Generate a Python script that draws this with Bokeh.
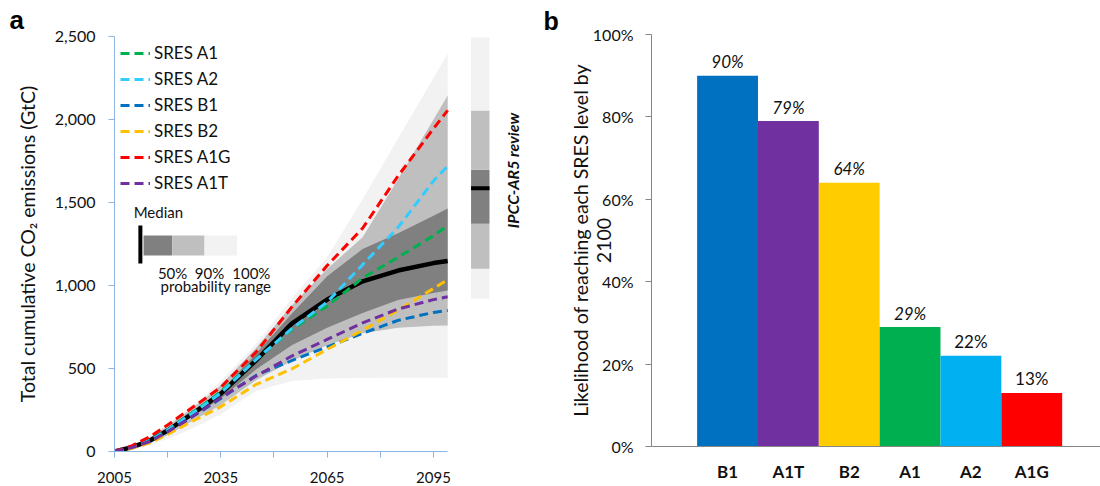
import math
from bokeh.plotting import figure
from bokeh.layouts import row, column
from bokeh.models import (ColumnDataSource, Legend, LegendItem, Label, FixedTicker,
                          PrintfTickFormatter, NumeralTickFormatter, Range1d)
from bokeh.core.properties import value
from bokeh.embed import file_html
from bokeh.resources import INLINE

FONT = "Lato"
TXT = "#111111"

# ---------------- Panel a data ----------------
years = [2005, 2010, 2015, 2020, 2025, 2030, 2035, 2045, 2055, 2065, 2075, 2085, 2095, 2099]

median = [0, 26, 66, 126, 200, 272, 349, 550, 770, 915, 1025, 1090, 1135, 1148]
up50 = [0, 28, 70, 132, 210, 285, 365, 590, 830, 1055, 1220, 1315, 1420, 1464]
lo50 = [0, 24, 60, 118, 185, 250, 320, 495, 640, 745, 835, 912, 955, 970]
up90 = [0, 32, 85, 155, 232, 310, 400, 625, 880, 1100, 1290, 1640, 2000, 2145]
lo90 = [0, 20, 50, 100, 160, 220, 280, 430, 545, 640, 712, 745, 757, 759]
up100 = [0, 35, 95, 165, 245, 330, 425, 650, 920, 1170, 1520, 1885, 2250, 2398]
lo100 = [0, 15, 40, 75, 120, 170, 225, 365, 425, 440, 443, 445, 445, 445]

sres_a1 = [0, 28, 70, 130, 205, 280, 360, 555, 735, 875, 1045, 1170, 1300, 1360]
sres_a2 = [0, 27, 66, 128, 202, 275, 352, 555, 740, 900, 1125, 1350, 1630, 1720]
sres_b1 = [0, 24, 62, 120, 185, 250, 320, 460, 548, 630, 712, 790, 838, 850]
sres_b2 = [0, 20, 52, 103, 160, 215, 270, 405, 497, 615, 731, 851, 982, 1035]
sres_a1g = [0, 35, 90, 160, 236, 310, 387, 600, 870, 1120, 1345, 1660, 1945, 2055]
sres_a1t = [0, 24, 60, 118, 183, 252, 325, 455, 575, 675, 775, 858, 915, 932]

scen_names = ["SRES A1", "SRES A2", "SRES B1", "SRES B2", "SRES A1G", "SRES A1T"]
scen_values = [sres_a1, sres_a2, sres_b1, sres_b2, sres_a1g, sres_a1t]
scen_colors = ["#00B050", "#33CCFF", "#0070C0", "#FFC000", "#FF0000", "#7030A0"]

# IPCC-AR5 review bar (edges from bottom to top, GtC)
review_edges = [920, 1101, 1372, 1697, 2054, 2494]
review_median = 1586

band_colors = ["#F2F2F2", "#BFBFBF", "#808080"]
review_colors = ["#F2F2F2", "#BFBFBF", "#808080", "#BFBFBF", "#F2F2F2"]
prob_labels = ["50%", "90%", "100%"]

# ---------------- Panel b data ----------------
scenarios = ["B1", "A1T", "B2", "A1", "A2", "A1G"]
likelihood = [90, 79, 64, 29, 22, 13]
bar_colors = ["#0070C0", "#7030A0", "#FFCC00", "#00B050", "#00B0F0", "#FF0000"]
label_styles = ["italic", "italic", "italic", "italic", "normal", "normal"]

# ======================= Panel a =======================
pa = figure(width=538, height=486, output_backend="svg", toolbar_location=None,
            x_range=Range1d(2005, 2123.5), y_range=Range1d(0, 2500),
            min_border_left=114, min_border_right=4, min_border_top=36, min_border_bottom=35)
pa.outline_line_color = None
pa.grid.visible = False

pa.title.text = "a"
pa.title.align = "left"
pa.title.offset = -105
pa.title.standoff = 3
pa.title.text_font = "Liberation Sans"
pa.title.text_font_size = "26px"
pa.title.text_font_style = "bold"
pa.title.text_color = "black"

pa.varea(x=years, y1=lo100, y2=up100, fill_color=band_colors[0])
pa.varea(x=years, y1=lo90, y2=up90, fill_color=band_colors[1])
pa.varea(x=years, y1=lo50, y2=up50, fill_color=band_colors[2])
pa.line(years, median, line_color="black", line_width=4.5)

renderers = []
for name, vals, col in zip(scen_names, scen_values, scen_colors):
    r = pa.line(years, vals, line_color=col, line_width=3, line_dash="9 5")
    renderers.append(r)

legend = Legend(items=[LegendItem(label=n, renderers=[r]) for n, r in zip(scen_names, renderers)],
                location="top_left", margin=6, padding=0, spacing=5,
                border_line_color=None, background_fill_alpha=0,
                glyph_width=30, glyph_height=18, label_height=18, label_standoff=4,
                label_text_font=FONT, label_text_font_size="17px", label_text_color=TXT)
pa.add_layout(legend)

# review bar
rb = ColumnDataSource(dict(bottom=review_edges[:-1], top=review_edges[1:], color=review_colors))
pa.quad(left=2105.6, right=2110.8, bottom="bottom", top="top", fill_color="color",
        line_color=None, source=rb)
pa.segment(x0=[2105.6], x1=[2110.8], y0=[review_median], y1=[review_median],
           line_color="black", line_width=4)
pa.add_layout(Label(x=2117.3, y=1693, text="IPCC-AR5 review", angle=math.pi / 2,
                    text_align="center", text_baseline="middle", text_font=FONT,
                    text_font_size="16px", text_font_style="bold italic", text_color=TXT))

# median / probability legend
box_left = [2013.2, 2021.3, 2030.4]
box_right = [2021.3, 2030.4, 2039.6]
pa.quad(left=box_left, right=box_right, bottom=1181, top=1301,
        fill_color=band_colors[::-1], line_color=None)
pa.segment(x0=[2012.3], x1=[2012.3], y0=[1133], y1=[1361], line_color="black", line_width=4)
pa.text(x=[2021.4, 2031.8, 2043.6], y=[1078] * 3, text=prob_labels, text_align="center",
        text_baseline="middle", text_font=value(FONT), text_font_size="15px", text_color=TXT)
pa.add_layout(Label(x=2010.4, y=1386, text="Median", text_font=FONT,
                    text_font_size="15px", text_color=TXT))
pa.add_layout(Label(x=2018.0, y=940, text="probability range", text_font=FONT,
                    text_font_size="15px", text_color=TXT))

axis_blue = "#8EB4E3"
pa.xaxis.ticker = FixedTicker(ticks=[2005, 2035, 2065, 2095], minor_ticks=[2020, 2050, 2080])
pa.xaxis.bounds = (2005, 2099)
pa.yaxis.ticker = FixedTicker(ticks=[0, 500, 1000, 1500, 2000, 2500], minor_ticks=[])
pa.yaxis.formatter = NumeralTickFormatter(format="0,0")
for ax in (pa.xaxis, pa.yaxis):
    ax.axis_line_color = axis_blue
    ax.major_tick_line_color = axis_blue
    ax.minor_tick_line_color = axis_blue
    ax.major_tick_in = 0
    ax.major_tick_out = 6
    ax.minor_tick_in = 0
    ax.minor_tick_out = 6
    ax.major_label_text_font = FONT
    ax.major_label_text_color = TXT
pa.xaxis.major_label_text_font_size = "15px"
pa.yaxis.major_label_text_font_size = "16px"
pa.yaxis.minor_tick_line_color = None
pa.xaxis.major_label_standoff = 14
pa.yaxis.major_label_standoff = 13
pa.yaxis.axis_label = "Total cumulative CO\u2082 emissions (GtC)"
pa.yaxis.axis_label_text_font = FONT
pa.yaxis.axis_label_text_font_size = "19.5px"
pa.yaxis.axis_label_text_font_style = "normal"
pa.yaxis.axis_label_text_color = TXT
pa.yaxis.axis_label_standoff = 13

# ======================= Panel b =======================
pb = figure(width=562, height=486, output_backend="svg", toolbar_location=None,
            x_range=Range1d(-0.25, 7.13), y_range=Range1d(0, 100),
            min_border_left=113, min_border_right=0, min_border_top=34, min_border_bottom=40)
pb.outline_line_color = None
pb.grid.visible = False

pb.title.text = "b"
pb.title.align = "left"
pb.title.offset = -108
pb.title.standoff = 0
pb.title.text_font = "Liberation Sans"
pb.title.text_font_size = "25px"
pb.title.text_font_style = "bold"
pb.title.text_color = "black"

bar_x = [i + 1 for i in range(len(scenarios))]
bs = ColumnDataSource(dict(x=bar_x, top=likelihood, color=bar_colors,
                           lab=[f"{v}%" for v in likelihood], style=label_styles,
                           ly=[v + 3.4 for v in likelihood]))
pb.vbar(x="x", top="top", width=1.0, fill_color="color", line_color=None, source=bs)
pb.text(x="x", y="ly", text="lab", text_font_style="style", source=bs, text_align="center",
        text_baseline="middle", text_font=value(FONT),
        text_font_size="17px", text_color=TXT)

grey = "#868686"
pb.yaxis.ticker = FixedTicker(ticks=[0, 20, 40, 60, 80, 100], minor_ticks=[])
pb.yaxis.formatter = PrintfTickFormatter(format="%d%%")
pb.xaxis.ticker = FixedTicker(ticks=bar_x, minor_ticks=[])
pb.xaxis.major_label_overrides = {x: s for x, s in zip(bar_x, scenarios)}
for ax in (pb.xaxis, pb.yaxis):
    ax.axis_line_color = grey
    ax.major_tick_line_color = grey
    ax.minor_tick_line_color = None
    ax.major_tick_in = 0
    ax.major_tick_out = 6
    ax.major_label_text_font = FONT
    ax.major_label_text_font_size = "16px"
    ax.major_label_text_color = TXT
pb.xaxis.major_tick_line_color = None
pb.xaxis.major_tick_out = 0
pb.xaxis.major_label_text_font_style = "bold"
pb.xaxis.major_label_text_font_size = "17px"
pb.xaxis.major_label_standoff = 14
pb.yaxis.major_label_standoff = 12
pb.yaxis.axis_label = "Likelihood of reaching each SRES level by\n2100"
pb.yaxis.axis_label_text_font = FONT
pb.yaxis.axis_label_text_font_size = "19.5px"
pb.yaxis.axis_label_text_font_style = "normal"
pb.yaxis.axis_label_text_color = TXT
pb.yaxis.axis_label_text_line_height = 1.0
pb.yaxis.axis_label_standoff = -25

layout = row(column(pa), column(pb))
open("out.html", "w").write(file_html(layout, INLINE))
